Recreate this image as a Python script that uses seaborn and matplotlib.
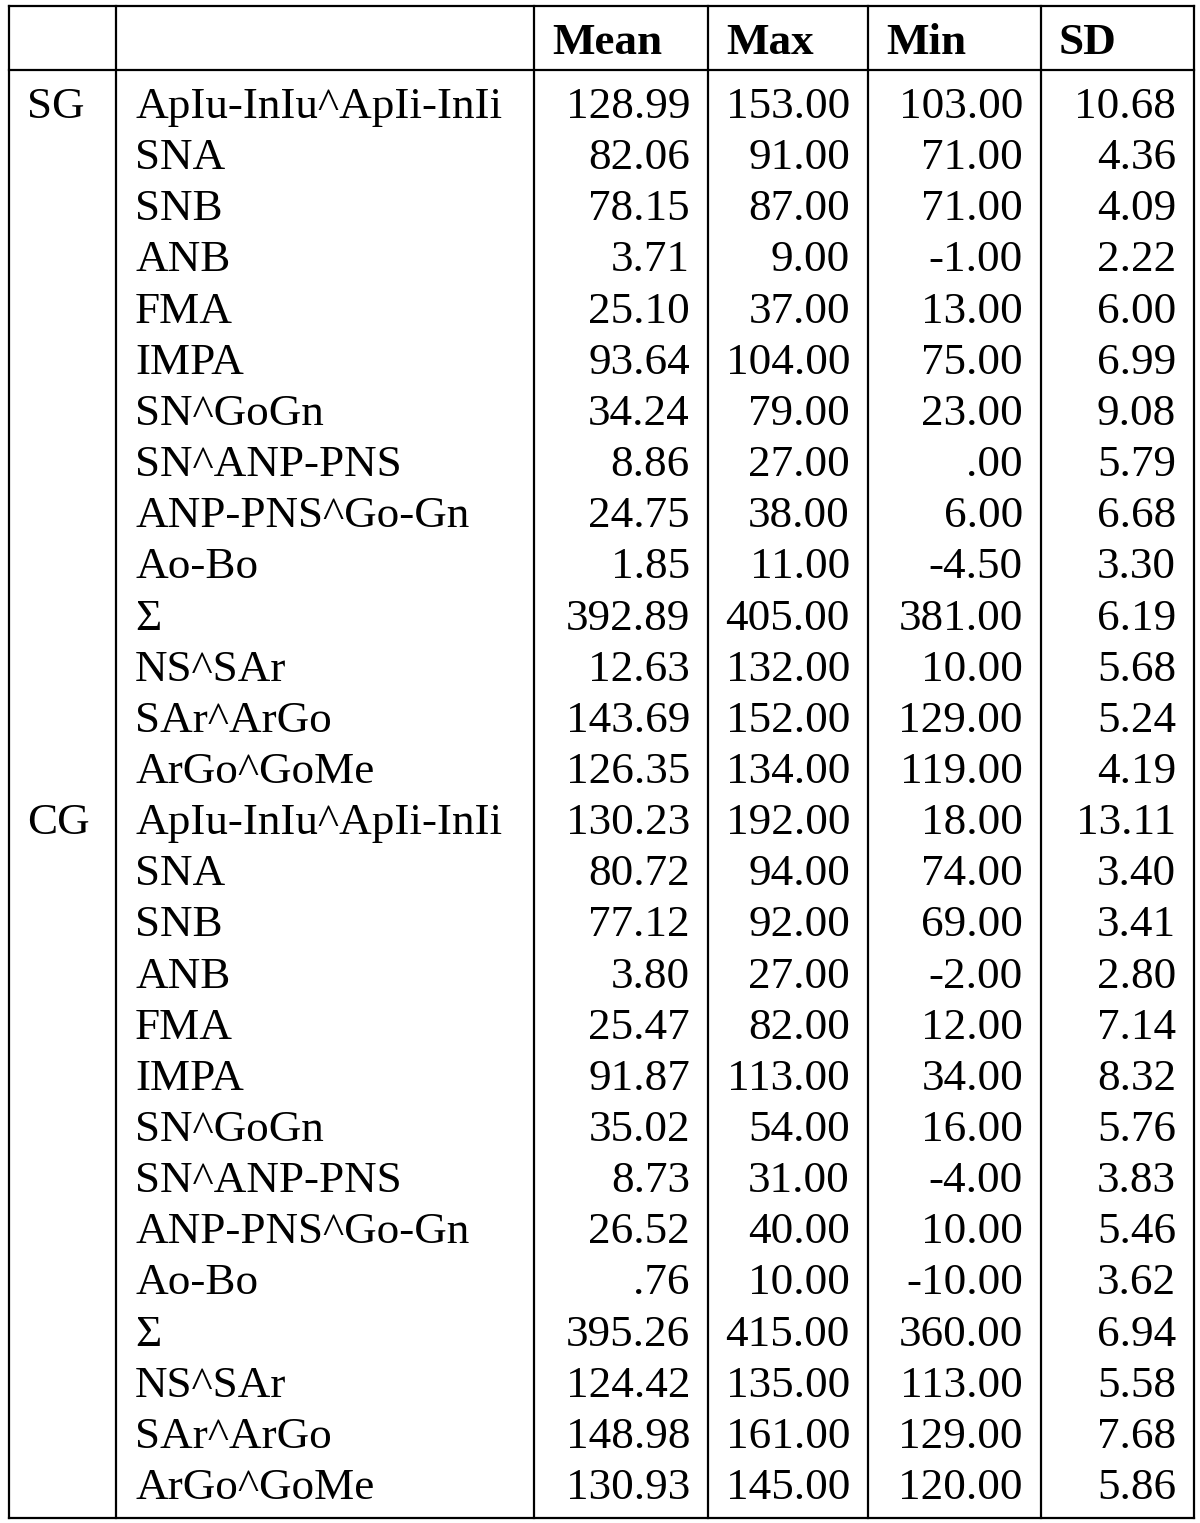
import matplotlib
matplotlib.use('Agg')
import matplotlib.pyplot as plt
import seaborn as sns

sns.set_theme(style='white')
plt.rcParams['font.family'] = ['Liberation Serif', 'DejaVu Serif']
plt.rcParams['text.color'] = 'black'

# table contents
headers = ['Mean', 'Max', 'Min', 'SD']
groups = ['SG', 'CG']
params = ['ApIu-InIu^ApIi-InIi', 'SNA', 'SNB', 'ANB', 'FMA', 'IMPA', 'SN^GoGn',
          'SN^ANP-PNS', 'ANP-PNS^Go-Gn', 'Ao-Bo', 'Σ', 'NS^SAr', 'SAr^ArGo', 'ArGo^GoMe']

sg_mean = [128.99, 82.06, 78.15, 3.71, 25.10, 93.64, 34.24, 8.86, 24.75, 1.85, 392.89, 12.63, 143.69, 126.35]
sg_max = [153.00, 91.00, 87.00, 9.00, 37.00, 104.00, 79.00, 27.00, 38.00, 11.00, 405.00, 132.00, 152.00, 134.00]
sg_min = [103.00, 71.00, 71.00, -1.00, 13.00, 75.00, 23.00, 0.00, 6.00, -4.50, 381.00, 10.00, 129.00, 119.00]
sg_sd = [10.68, 4.36, 4.09, 2.22, 6.00, 6.99, 9.08, 5.79, 6.68, 3.30, 6.19, 5.68, 5.24, 4.19]

cg_mean = [130.23, 80.72, 77.12, 3.80, 25.47, 91.87, 35.02, 8.73, 26.52, 0.76, 395.26, 124.42, 148.98, 130.93]
cg_max = [192.00, 94.00, 92.00, 27.00, 82.00, 113.00, 54.00, 31.00, 40.00, 10.00, 415.00, 135.00, 161.00, 145.00]
cg_min = [18.00, 74.00, 69.00, -2.00, 12.00, 34.00, 16.00, -4.00, 10.00, -10.00, 360.00, 113.00, 129.00, 120.00]
cg_sd = [13.11, 3.40, 3.41, 2.80, 7.14, 8.32, 5.76, 3.83, 5.46, 3.62, 6.94, 5.58, 7.68, 5.86]


def fmt(v):
    # SPSS style: no leading zero
    s = f'{v:.2f}'
    if s.startswith('0.'):
        s = s[1:]
    return s


rows = []
for g, cols in zip(groups, [(sg_mean, sg_max, sg_min, sg_sd), (cg_mean, cg_max, cg_min, cg_sd)]):
    for i, p in enumerate(params):
        rows.append([g if i == 0 else '', p] + [fmt(c[i]) for c in cols])

W, H = 1200, 1523
fig = plt.figure(figsize=(12, 15.23), dpi=100)
ax = fig.add_axes([0, 0, 1, 1])
ax.set_xlim(0, W)
ax.set_ylim(H, 0)
ax.axis('off')

edges = [9, 116, 534, 708, 868, 1041, 1194]
top, head_line, bottom = 6, 69.5, 1518
lw = 1.6
fs = 32.5

# grid lines
for x in edges:
    ax.plot([x, x], [top, bottom], color='black', lw=lw, solid_capstyle='projecting')
for y in [top, head_line, bottom]:
    ax.plot([edges[0], edges[-1]], [y, y], color='black', lw=lw, solid_capstyle='projecting')

pad = 18
# header
for j, h in enumerate(headers):
    ax.text(edges[j + 2] + pad, 54, h, fontsize=fs, fontweight='bold', ha='left', va='baseline', color='black')

# body
row_h = 51.15
for i, r in enumerate(rows):
    yb = 118 + row_h * i
    ax.text(edges[0] + 18, yb, r[0], fontsize=fs, ha='left', va='baseline', color='black')
    ax.text(edges[1] + 19, yb, r[1], fontsize=fs, ha='left', va='baseline', color='black')
    for j in range(4):
        ax.text(edges[j + 3] - pad, yb, r[j + 2], fontsize=fs, ha='right', va='baseline', color='black')

fig.savefig('out.png', dpi=100, facecolor='white')
